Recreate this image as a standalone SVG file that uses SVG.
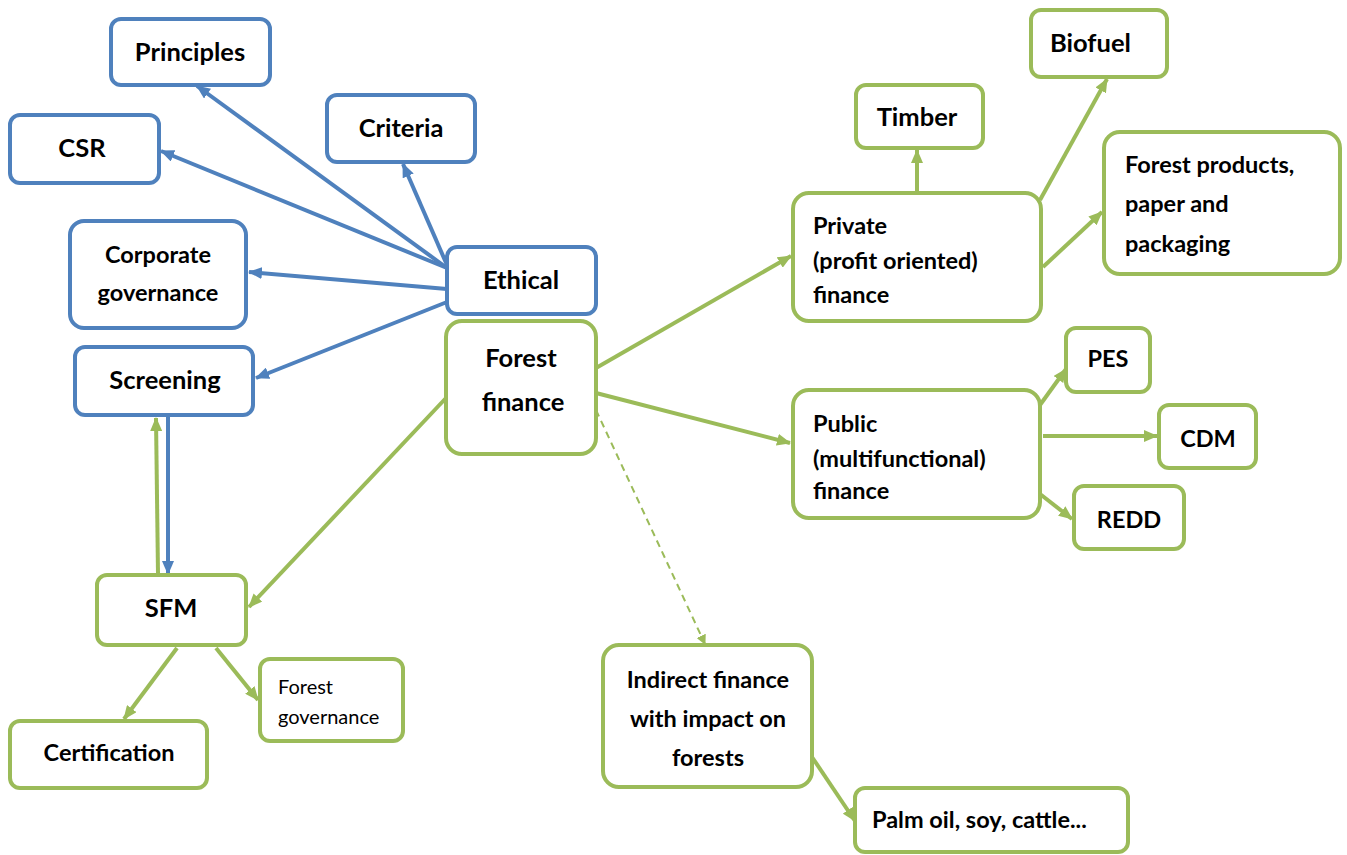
<svg xmlns="http://www.w3.org/2000/svg" width="1347" height="855" viewBox="0 0 1347 855">
<style>
.b{fill:#fff;stroke:#4F81BD;stroke-width:4}
.g{fill:#fff;stroke:#9BBB59;stroke-width:4}
.t{font-family:Lato,"Open Sans","Liberation Sans",sans-serif;font-weight:bold;font-size:23.5px;fill:#000}
.L{font-size:25.5px}
.c{text-anchor:middle}
.n{font-weight:normal;font-size:20px}
.lb{stroke:#4F81BD;stroke-width:4;fill:none;marker-end:url(#ab)}
.lg{stroke:#9BBB59;stroke-width:4;fill:none;marker-end:url(#ag)}
.ld{stroke:#9BBB59;stroke-width:2;fill:none;stroke-dasharray:7 5;marker-end:url(#agd)}
</style>
<defs>
<marker id="ab" markerUnits="userSpaceOnUse" markerWidth="14" markerHeight="12" refX="13" refY="6" orient="auto"><path d="M0,0 L14,6 L0,12 Z" fill="#4F81BD"/></marker>
<marker id="ag" markerUnits="userSpaceOnUse" markerWidth="14" markerHeight="12" refX="13" refY="6" orient="auto"><path d="M0,0 L14,6 L0,12 Z" fill="#9BBB59"/></marker>
<marker id="agd" markerUnits="userSpaceOnUse" markerWidth="10" markerHeight="10" refX="9" refY="5" orient="auto"><path d="M0,0 L10,5 L0,10 Z" fill="#9BBB59"/></marker>
</defs>
<rect width="1347" height="855" fill="#fff"/>
<g id="connectors">
<line class="lb" x1="447" y1="268" x2="197" y2="86"/>
<line class="lb" x1="447" y1="268" x2="161" y2="151"/>
<line class="lb" x1="447" y1="265" x2="403" y2="164"/>
<line class="lb" x1="447" y1="289" x2="249" y2="272"/>
<line class="lb" x1="447" y1="302" x2="256" y2="378"/>
<line class="lb" x1="168" y1="416" x2="168" y2="574"/>
<line class="lg" x1="158" y1="574" x2="156" y2="418"/>
<line class="lg" x1="446" y1="398" x2="249" y2="607"/>
<line class="lg" x1="177" y1="648" x2="124" y2="719"/>
<line class="lg" x1="216" y1="648" x2="258" y2="700"/>
<line class="lg" x1="596" y1="368" x2="791" y2="256"/>
<line class="lg" x1="596" y1="393" x2="790" y2="443"/>
<line class="ld" x1="596" y1="410" x2="705" y2="644"/>
<line class="lg" x1="917" y1="193" x2="917" y2="150"/>
<line class="lg" x1="1040" y1="200" x2="1107" y2="79"/>
<line class="lg" x1="1043" y1="267" x2="1102" y2="212"/>
<line class="lg" x1="1040" y1="405" x2="1066" y2="369"/>
<line class="lg" x1="1043" y1="436" x2="1157" y2="436"/>
<line class="lg" x1="1040" y1="494" x2="1072" y2="519"/>
<line class="lg" x1="812" y1="757" x2="855" y2="821"/>
</g>
<g id="principles"><rect class="b" x="111" y="19" width="159" height="66" rx="10"/><text class="t L c" x="190" y="61">Principles</text></g>
<g id="csr"><rect class="b" x="10" y="115" width="149" height="68" rx="10"/><text class="t L c" x="82" y="157">CSR</text></g>
<g id="criteria"><rect class="b" x="327" y="95" width="148" height="67" rx="10"/><text class="t L c" x="401" y="137">Criteria</text></g>
<g id="corporate"><rect class="b" x="70" y="221" width="176" height="107" rx="14"/><text class="t c" x="158" y="263">Corporate</text><text class="t c" x="158" y="301">governance</text></g>
<g id="ethical"><rect class="b" x="447" y="247" width="149" height="67" rx="10"/><text class="t L c" x="521" y="289">Ethical</text></g>
<g id="screening"><rect class="b" x="75" y="347" width="178" height="68" rx="10"/><text class="t L c" x="165" y="389">Screening</text></g>
<g id="forest-finance"><rect class="g" x="446" y="321" width="150" height="133" rx="16"/><text class="t L c" x="521" y="367">Forest</text><text class="t L c" x="523" y="411">finance</text></g>
<g id="sfm"><rect class="g" x="97" y="575" width="149" height="70" rx="10"/><text class="t L c" x="171" y="617">SFM</text></g>
<g id="certification"><rect class="g" x="10" y="721" width="197" height="67" rx="10"/><text class="t c" x="109" y="761">Certification</text></g>
<g id="forest-governance"><rect class="g" x="260" y="659" width="143" height="82" rx="10"/><text class="t n" x="278" y="694">Forest</text><text class="t n" x="278" y="724">governance</text></g>
<g id="private"><rect class="g" x="793" y="193" width="248" height="128" rx="16"/><text class="t" x="813" y="234">Private</text><text class="t" x="813" y="269">(profit oriented)</text><text class="t" x="813" y="303">finance</text></g>
<g id="timber"><rect class="g" x="856" y="85" width="127" height="63" rx="10"/><text class="t L c" x="917" y="126">Timber</text></g>
<g id="biofuel"><rect class="g" x="1031" y="10" width="136" height="67" rx="10"/><text class="t L" x="1050" y="52">Biofuel</text></g>
<g id="forest-products"><rect class="g" x="1104" y="132" width="236" height="142" rx="16"/><text class="t" x="1125" y="173">Forest products,</text><text class="t" x="1125" y="212">paper and</text><text class="t" x="1125" y="252">packaging</text></g>
<g id="public"><rect class="g" x="793" y="390" width="247" height="128" rx="16"/><text class="t" x="813" y="432">Public</text><text class="t" x="813" y="467">(multifunctional)</text><text class="t" x="813" y="499">finance</text></g>
<g id="pes"><rect class="g" x="1066" y="328" width="84" height="64" rx="10"/><text class="t c" x="1108" y="367">PES</text></g>
<g id="cdm"><rect class="g" x="1159" y="405" width="97" height="63" rx="10"/><text class="t c" x="1208" y="447">CDM</text></g>
<g id="redd"><rect class="g" x="1074" y="486" width="110" height="63" rx="10"/><text class="t c" x="1129" y="528">REDD</text></g>
<g id="indirect"><rect class="g" x="603" y="645" width="209" height="142" rx="16"/><text class="t c" x="708" y="688">Indirect finance</text><text class="t c" x="708" y="727">with impact on</text><text class="t c" x="708" y="766">forests</text></g>
<g id="palm"><rect class="g" x="855" y="788" width="273" height="64" rx="10"/><text class="t" x="872" y="828">Palm oil, soy, cattle...</text></g>
</svg>
